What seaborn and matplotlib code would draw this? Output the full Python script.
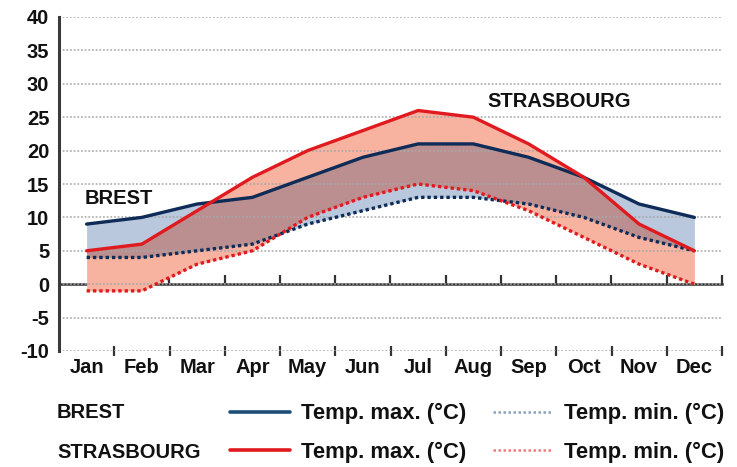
import numpy as np
import pandas as pd
import seaborn as sns
import matplotlib.pyplot as plt
from matplotlib.lines import Line2D

# Monthly mean temperatures (°C)
months = ["Jan", "Feb", "Mar", "Apr", "May", "Jun",
          "Jul", "Aug", "Sep", "Oct", "Nov", "Dec"]
brest_max = [9, 10, 12, 13, 16, 19, 21, 21, 19, 16, 12, 10]
brest_min = [4, 4, 5, 6, 9, 11, 13, 13, 12, 10, 7, 5]
stras_max = [5, 6, 11, 16, 20, 23, 26, 25, 21, 16, 9, 5]
stras_min = [-1, -1, 3, 5, 10, 13, 15, 14, 11, 7, 3, 0]
yticks = [-10, -5, 0, 5, 10, 15, 20, 25, 30, 35, 40]

city_colors = {"BREST": "#0e2c57", "STRASBOURG": "#e01a1f"}
fill_blue = "#b9c8dc"
fill_salmon = "#f8b2a0"
fill_overlap = "#bb8f8f"

sns.set_theme(style="white")
plt.rcParams["font.family"] = ["Liberation Sans", "DejaVu Sans"]
plt.rcParams["axes.unicode_minus"] = False

rows = []
for city, tmax, tmin in [("BREST", brest_max, brest_min),
                         ("STRASBOURG", stras_max, stras_min)]:
    for i, m in enumerate(months):
        rows.append({"city": city, "kind": "max", "x": i, "temp": tmax[i]})
        rows.append({"city": city, "kind": "min", "x": i, "temp": tmin[i]})
df = pd.DataFrame(rows)

fig = plt.figure(figsize=(7.37, 4.67), dpi=100)
ax = fig.add_axes([59 / 737, 1 - 351 / 467, (722 - 59) / 737, (351 - 17) / 467])

# Temperature ranges: blue for Brest, salmon for Strasbourg, mauve where they overlap
x = np.arange(len(months))
xf = np.linspace(0, len(months) - 1, 1101)
bmax_f = np.interp(xf, x, brest_max)
bmin_f = np.interp(xf, x, brest_min)
smax_f = np.interp(xf, x, stras_max)
smin_f = np.interp(xf, x, stras_min)
ax.fill_between(xf, bmin_f, bmax_f, color=fill_blue, lw=0, zorder=1)
ax.fill_between(xf, smin_f, smax_f, color=fill_salmon, lw=0, zorder=1)
lo = np.maximum(bmin_f, smin_f)
hi = np.minimum(bmax_f, smax_f)
ax.fill_between(xf, lo, hi, where=hi >= lo, color=fill_overlap, lw=0,
                zorder=1, interpolate=True)

sns.lineplot(data=df, x="x", y="temp", hue="city", style="kind",
             palette=city_colors, dashes={"max": "", "min": (1, 0.9)},
             linewidth=2.4, legend=False, ax=ax, zorder=3)

ax.set_xlim(-0.5, len(months) - 0.5)
ax.set_ylim(-10, 40)
ax.set_xlabel("")
ax.set_ylabel("")

# Horizontal dotted grid
ax.set_yticks(yticks)
ax.set_axisbelow("line")
ax.yaxis.grid(True, color="#a8a8a8", linestyle=(0, (1.2, 1.2)), linewidth=1.1)
ax.xaxis.grid(False)

ax.set_xticks(x)
ax.set_xticklabels(months)
ax.set_xticks(np.arange(0.5, len(months), 1.0), minor=True)
ax.tick_params(axis="x", which="major", length=0, pad=5,
               labelsize=14.5, labelcolor="#111111")
ax.tick_params(axis="x", which="minor", direction="inout", length=7,
               width=1.6, color="#333333", bottom=True)
ax.tick_params(axis="y", length=0, pad=7, labelsize=14.5, labelcolor="#111111")
for lab in ax.get_xticklabels() + ax.get_yticklabels():
    lab.set_fontweight("bold")

for side in ["top", "right", "bottom"]:
    ax.spines[side].set_visible(False)
ax.spines["left"].set_color("#3a3a3a")
ax.spines["left"].set_linewidth(2.2)

# Zero axis with its own month-boundary ticks
zero_ax = ax.secondary_xaxis(10 / 50)
zero_ax.set_xticks(np.arange(0.5, len(months), 1.0))
zero_ax.tick_params(direction="in", length=6.5, width=1.6, color="#333333",
                    labelbottom=False)
zero_ax.spines["bottom"].set_color("#333333")
zero_ax.spines["bottom"].set_linewidth(1.8)

# City annotations
ax.text(-0.03, 12.8, "BREST", fontsize=14.5, fontweight="bold",
        ha="left", va="center", color="#111111", zorder=5)
ax.text(7.26, 27.4, "STRASBOURG", fontsize=14.5, fontweight="bold",
        ha="left", va="center", color="#111111", zorder=5)

# Legend: city names in a left column, line styles in a two-column legend
fig.text(57 / 737, 1 - 413 / 467, "BREST", fontsize=14.5, fontweight="bold",
         ha="left", va="center", color="#111111")
fig.text(57 / 737, 1 - 453 / 467, "STRASBOURG", fontsize=14.5, fontweight="bold",
         ha="left", va="center", color="#111111")

handles = [
    Line2D([], [], color="#1d4e7a", lw=2.6),
    Line2D([], [], color=city_colors["STRASBOURG"], lw=2.6),
    Line2D([], [], color="#8aa3bd", lw=1.8, linestyle=(0, (1, 1))),
    Line2D([], [], color="#f07a7a", lw=1.8, linestyle=(0, (1, 1))),
]
labels = ["Temp. max. (°C)", "Temp. max. (°C)",
          "Temp. min. (°C)", "Temp. min. (°C)"]
leg = fig.legend(handles, labels, ncol=2, loc="center left",
                 bbox_to_anchor=(230 / 737, 1 - 433 / 467),
                 frameon=False, borderpad=0, borderaxespad=0,
                 handlelength=2.75, handletextpad=0.5, columnspacing=1.2,
                 labelspacing=0.8,
                 prop={"family": ["Liberation Sans"],
                       "weight": "bold", "size": 15.8})
for t in leg.get_texts():
    t.set_color("#111111")

fig.savefig("out.png", dpi=100)
